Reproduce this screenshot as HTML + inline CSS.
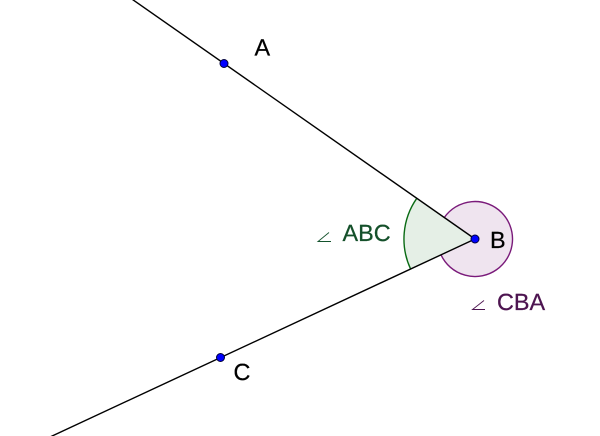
<!DOCTYPE html>
<html>
<head>
<meta charset="utf-8">
<style>
html,body{margin:0;padding:0;background:#fff;width:600px;height:436px;overflow:hidden}
svg{display:block}
text{font-family:"Liberation Sans",Arial,sans-serif;font-size:23.4px;stroke-width:0.25px;text-rendering:geometricPrecision}
</style>
</head>
<body>
<svg width="600" height="436" viewBox="0 0 600 436" xmlns="http://www.w3.org/2000/svg">
<rect width="600" height="436" fill="#fff"/>
<path d="M475 239 L444.3 217.5 A37.5 37.5 0 1 1 441 254.8 Z" fill="#7f1f7f" fill-opacity="0.12" stroke="none"/>
<path d="M444.3 217.5 A37.5 37.5 0 1 1 441 254.8" fill="none" stroke="#7a1a7a" stroke-width="1.4"/>
<path d="M475 239 L416.8 198.3 A71 71 0 0 0 410.6 269 Z" fill="#0f6b1f" fill-opacity="0.11" stroke="none"/>
<path d="M416.8 198.3 A71 71 0 0 0 410.6 269" fill="none" stroke="#0a6b14" stroke-width="1.4"/>
<line x1="131.8" y1="-1" x2="475" y2="239" stroke="#000" stroke-width="1.4"/>
<line x1="50" y1="437" x2="475" y2="239" stroke="#000" stroke-width="1.4"/>
<circle cx="224" cy="63.5" r="4" fill="#0000ff" stroke="#00003c" stroke-width="1"/>
<circle cx="220.5" cy="357.5" r="4" fill="#0000ff" stroke="#00003c" stroke-width="1"/>
<circle cx="475" cy="239" r="4" fill="#0000ff" stroke="#00003c" stroke-width="1"/>
<text x="254.5" y="55.5" fill="#000" stroke="#000">A</text>
<text x="490" y="248" fill="#000" stroke="#000">B</text>
<text x="233.5" y="380" fill="#000" stroke="#000">C</text>
<path d="M329 232.5 L318 241.5 H331" fill="none" stroke="#14532d" stroke-width="0.9"/>
<text x="342.5" y="241" fill="#14502a" stroke="#14502a">ABC</text>
<path d="M484 300.5 L472.5 309.5 H485" fill="none" stroke="#4d1450" stroke-width="0.9"/>
<text x="497" y="310" fill="#4d1450" stroke="#4d1450">CBA</text>
</svg>
</body>
</html>
